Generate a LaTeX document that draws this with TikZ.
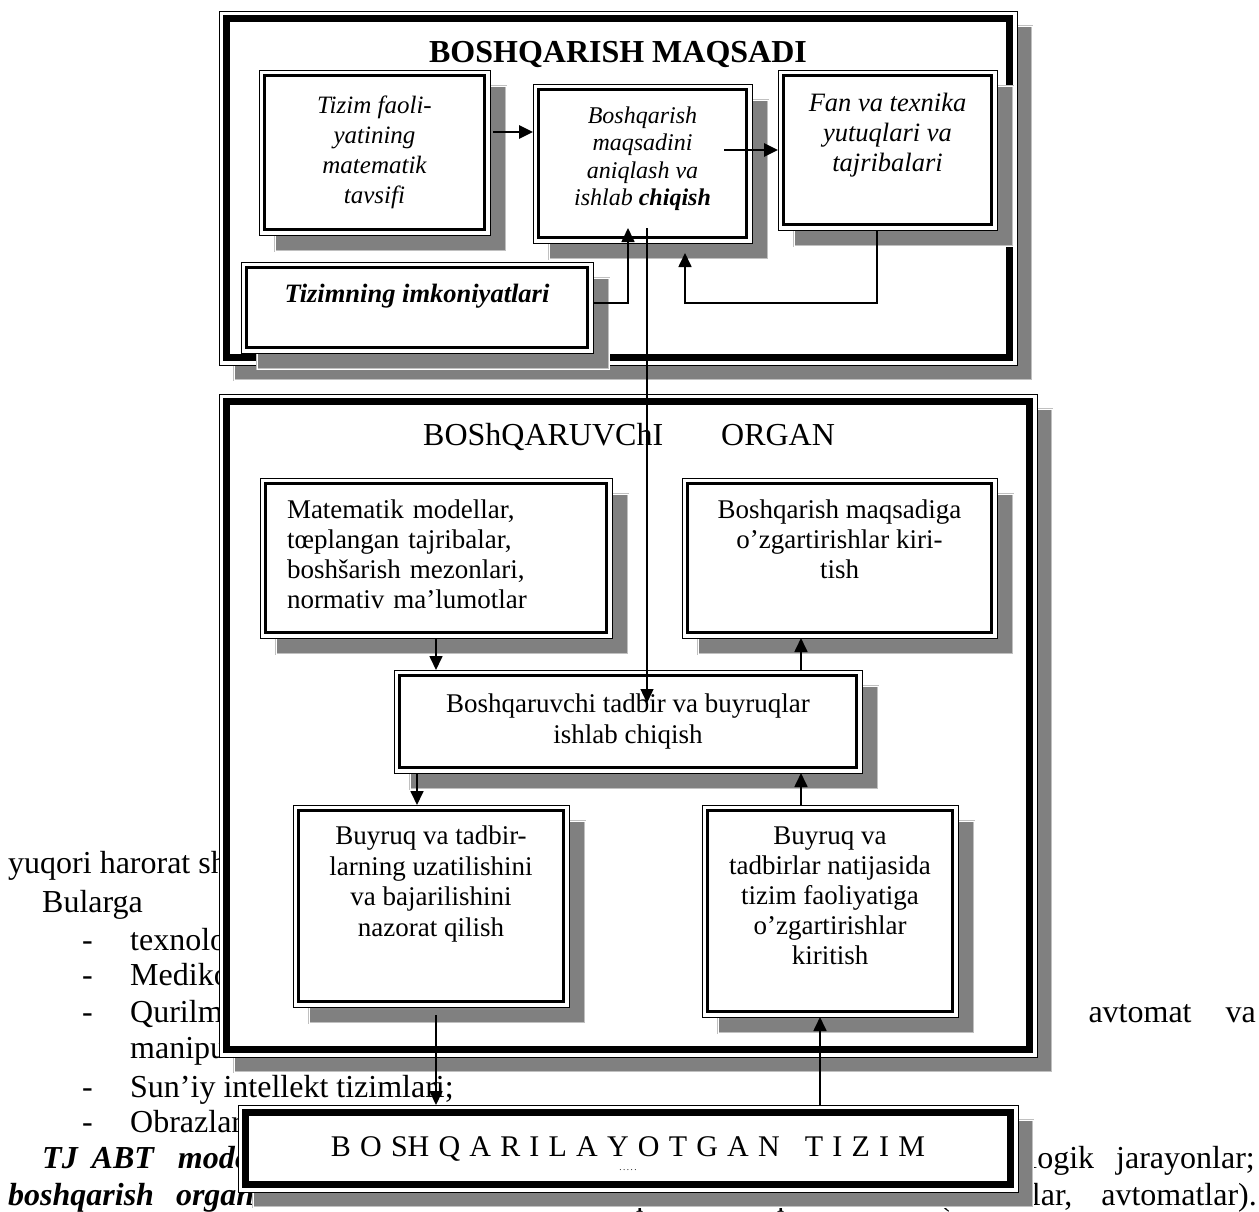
\documentclass[tikz,border=0pt]{standalone}
\usepackage{fontspec}
\setmainfont{Liberation Serif}
\usetikzlibrary{%
  arrows.meta,%
  shadows%
}
\definecolor{shgray}{RGB}{128,128,128}
\definecolor{shline}{RGB}{192,192,192}
\tikzset{>={Triangle[length=14pt,width=13pt]}}
\tikzset{
  dblframe/.style 2 args={draw, line width=1pt, fill=white, inner sep=0pt, outer sep=0pt,
    path picture={\draw[line width=#2]
      ([shift={(#1,-#1)}]path picture bounding box.north west) rectangle
      ([shift={(-#1,#1)}]path picture bounding box.south east);}},
  boxshadow/.style={drop shadow={shadow xshift=#1, shadow yshift=-#1, opacity=1,
      fill=shgray, draw=shline, double=white, double distance=0.8pt, line width=0.7pt}},
  bigbox/.style={dblframe={7.5pt}{7pt}, boxshadow=15pt},
  smallbox/.style={dblframe={5.5pt}{3.5pt}, boxshadow=16pt},
  txt/.style={inner sep=0pt},
  bgline/.style={font=\fontsize{32}{37}\selectfont, anchor=base west, inner sep=0pt},
  conn/.style={->, line width=1.7pt},
  bconn/.style={->, line width=2.8pt}
}
\newcommand{\lowstrut}[1]{\rule[-#1]{0pt}{#1}}

\begin{document}
\begin{tikzpicture}[x=1pt,y=-1pt]
    \useasboundingbox (0,0) rectangle (1259,1211);

    \node[bgline] (l1) at (8,873) {yuqori harorat sharo};
    \node[bgline] (l2) at (42,912) {Bularga};
    \node[bgline] (d3) at (82,950) {-};
    \node[bgline] (l3) at (130,950) {texnologik};
    \node[bgline] (d4) at (82,985) {-};
    \node[bgline] (l4) at (130,985) {Mediko-};
    \node[bgline] (d5) at (82,1022) {-};
    \node[bgline] (l5) at (130,1022) {Qurilmalar};
    \node[bgline, anchor=base east] (l5r) at (1256,1022) {avtomat\hspace{34pt}va};
    \node[bgline] (l6) at (130,1058) {manipulyatorlar;};
    \node[bgline] (d7) at (82,1097) {-};
    \node[bgline] (l7) at (130,1097) {Sun’iy intellekt tizimlari;};
    \node[bgline] (d8) at (82,1132) {-};
    \node[bgline] (l8) at (130,1132) {Obrazlarni};
    \node[bgline, font=\bfseries\itshape\fontsize{32}{37}\selectfont] (l9) at (42,1168)
    {TJ\hspace{14pt}ABT\hspace{24pt}modellari};
    \node[bgline, anchor=base east] (l9r) at (1255,1168) {texnologik\hspace{22pt}jarayonlar;};
    \node[bgline, font=\bfseries\itshape\fontsize{32}{37}\selectfont] (l10) at (8,1205)
    {boshqarish\hspace{22pt}organi};
    \node[bgline, anchor=base east] (l10r) at (1257,1205)
    {insoolovchi\hspace{29pt}va\hspace{29pt}boshqaruvchi\hspace{29pt}qurilmalari\hspace{29pt}(EHM-lar,\hspace{29pt}avtomatlar).};

    \node[bigbox, minimum width=798pt, minimum height=354pt] (goal) at (618,188) {};
    \node[txt, anchor=base, font=\bfseries\fontsize{32}{32}\selectfont] (goaltitle) at (618,62)
    {BOSHQARISH MAQSADI};

    \node[smallbox, minimum width=231pt, minimum height=165pt, align=center,
    font=\itshape\fontsize{25}{30}\selectfont] (tavsif) at (374.5,152.5)
    {Tizim faoli-\\yatining\\matematik\\tavsifi};
    \node[smallbox, minimum width=219pt, minimum height=159pt, align=center,
    font=\itshape\fontsize{24}{27.5}\selectfont] (maqsad) at (642.5,163.5)
    {Boshqarish\\maqsadini\\aniqlash va\\ishlab \textbf{chiqish}\lowstrut{15pt}};
    \node[smallbox, minimum width=219pt, minimum height=160pt, align=center,
    font=\itshape\fontsize{26.5}{30}\selectfont] (fan) at (887.5,150)
    {Fan va texnika\\yutuqlari va\\tajribalari\lowstrut{36pt}};
    \node[smallbox, minimum width=352pt, minimum height=91pt,
    font=\bfseries\itshape\fontsize{26.5}{30}\selectfont] (imkon) at (417,307.5)
    {Tizimning imkoniyatlari\lowstrut{27.5pt}};

    \draw[bconn] ([shift={(3pt,20.5pt)}]tavsif.east) -- ([yshift=31.5pt]maqsad.west);
    \draw[bconn] ([shift={(-28pt,13.5pt)}]maqsad.east) -- (fan.west);
    \draw[conn] ([yshift=4.5pt]imkon.east) -| ([shift={(-14.5pt,15pt)}]maqsad.south);
    \draw[conn] ([xshift=-10.5pt]fan.south) -- ++(0,73) -| ([shift={(42.5pt,-10pt)}]maqsad.south);

    \node[bigbox, minimum width=818pt, minimum height=663pt] (organ) at (628,725.5) {};
    \node[txt, anchor=base west, font=\fontsize{32}{32}\selectfont] (organtitle) at (423,445)
    {BOShQARUVChI\hspace*{58pt}ORGAN};

    \node[smallbox, minimum width=352pt, minimum height=160pt, text width=298pt, align=left,
    font=\fontsize{27}{30}\selectfont] (models) at (436,558)
    {Matematik modellar,\\tœplangan tajribalar,\\boshšarish mezonlari,\\normativ ma’lumotlar\lowstrut{8pt}};
    \node[smallbox, minimum width=315pt, minimum height=160pt, align=center,
    font=\fontsize{27}{30}\selectfont] (ozgar) at (839.5,558)
    {Boshqarish maqsadiga\\o’zgartirishlar kiri-\\tish\lowstrut{38pt}};
    \node[smallbox, minimum width=468pt, minimum height=103pt, align=center,
    font=\fontsize{27}{31}\selectfont] (tadbir) at (628,721.5)
    {Boshqaruvchi tadbir va buyruqlar\\ishlab chiqish};
    \node[smallbox, minimum width=276pt, minimum height=202pt, align=center,
    font=\fontsize{27}{30.5}\selectfont] (nazorat) at (431,906)
    {Buyruq va tadbir-\\larning uzatilishini\\va bajarilishini\\nazorat qilish\lowstrut{50pt}};
    \node[smallbox, minimum width=256pt, minimum height=212pt, align=center,
    font=\fontsize{27}{30}\selectfont] (natija) at (830,911)
    {Buyruq va\\tadbirlar natijasida\\tizim faoliyatiga\\o’zgartirishlar\\kiritish\lowstrut{30pt}};

    \draw[conn, line width=1.3pt] ([shift={(4.5pt,15pt)}]maqsad.south) -- ([shift={(19pt,18.5pt)}]tadbir.center);
    \draw[conn] (models.south) -- (models.south |- tadbir.north);
    \draw[conn] ([xshift=173pt]tadbir.north) -- ([xshift=-38.5pt]ozgar.south);
    \draw[conn] ([xshift=-211pt]tadbir.south) -- ([xshift=-14pt]nazorat.north);
    \draw[conn] ([xshift=-29pt]natija.north) -- ([xshift=173pt]tadbir.south);

    \node[bigbox, minimum width=780pt, minimum height=87pt, font=\fontsize{30}{30}\selectfont] (tizim)
    at (628,1148.5) {{\spaceskip=9.2pt B O SH Q A R I L A Y O T G A N\hspace{16pt} T I Z I M}};
    \node[txt, font=\fontsize{9}{9}\selectfont] (dots) at (628,1170) {.\,.\,.\,.\,.};

    \draw[conn] ([shift={(5pt,-8pt)}]nazorat.south) -- ([xshift=-192pt]tizim.north);
    \draw[conn] ([xshift=192pt]tizim.north) -- ([xshift=-10pt]natija.south);
\end{tikzpicture}
\end{document}
